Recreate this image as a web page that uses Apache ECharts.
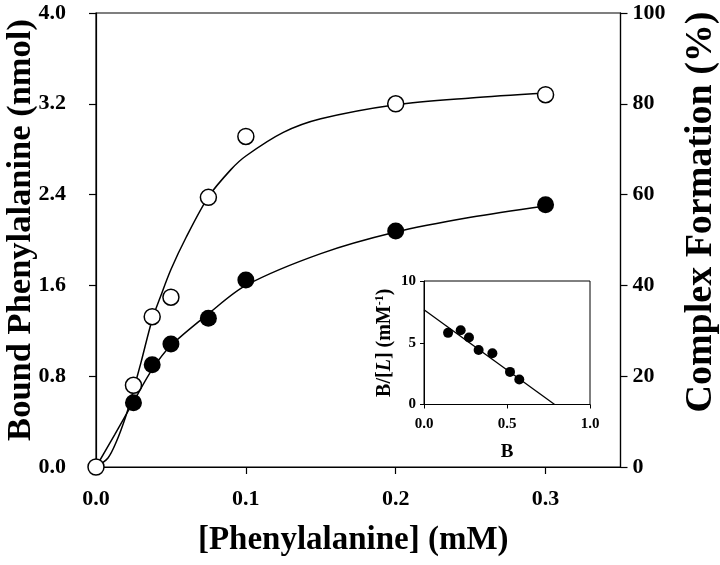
<!DOCTYPE html>
<html>
<head>
<meta charset="utf-8">
<script src="https://cdn.jsdelivr.net/npm/echarts@6/dist/echarts.min.js"></script>
<style>
html,body{margin:0;padding:0;background:#fff;}
#chart{width:720px;height:565px;}
</style>
</head>
<body>
<div id="chart"></div>
<script>
// ---- Data ----
const concentration = [0, 0.025, 0.0375, 0.05, 0.075, 0.1, 0.2, 0.3];          // mM
const boundNmol     = [0, 0.567, 0.90, 1.084, 1.31, 1.648, 2.08, 2.31];           // filled circles (left axis)
const complexPct    = [0, 18.0, 33.1, 37.4, 59.4, 72.8, 80.0, 82.0];              // open circles (right axis)

// fitted curves as drawn in the figure
const boundCurveX   = [0, 0.0125, 0.025, 0.0375, 0.05, 0.075, 0.1, 0.15, 0.2, 0.25, 0.3];
const boundCurveY   = [0, 0.285, 0.575, 0.86, 1.07, 1.35, 1.6, 1.88, 2.07, 2.2, 2.3];
const complexCurveX = [0, 0.008, 0.0135, 0.02, 0.025, 0.03, 0.0375, 0.043, 0.05, 0.06, 0.075, 0.09, 0.1, 0.125, 0.15, 0.2, 0.25, 0.3];
const complexCurveY = [0, 2, 5.5, 11.3, 17, 23, 32.5, 37.5, 43.5, 50.5, 59.5, 65.5, 68.5, 73.7, 76.7, 79.8, 81.3, 82.4];

// inset (Scatchard plot)
const insetB        = [0.145, 0.221, 0.271, 0.329, 0.412, 0.518, 0.574];
const insetBL       = [5.80, 6.01, 5.42, 4.42, 4.15, 2.64, 2.02];
const insetFitX     = [0, 0.787];
const insetFitY     = [7.68, 0];

// tick settings
const mainXTicks = {min: 0, max: 0.35, interval: 0.1};
const leftYTicks = {min: 0, max: 4.0, interval: 0.8};
const rightYTicks = {min: 0, max: 100, interval: 20};
const insetXTicks = {min: 0, max: 1.0, interval: 0.5};
const insetYTicks = {min: 0, max: 10, interval: 5};

const zip = (a, b) => a.map((v, i) => [v, b[i]]);

const FONT = "'Liberation Serif', 'Times New Roman', serif";
const lab = (size, extra) => Object.assign({color: '#000', fontFamily: FONT, fontWeight: 'bold', fontSize: size}, extra || {});
const line = {lineStyle: {color: '#000', width: 1.2}};

const chart = echarts.init(document.getElementById('chart'), null, {renderer: 'canvas'});
chart.setOption({
  animation: false,
  backgroundColor: '#fff',
  grid: [
    {left: 96, top: 13, width: 524.5, height: 454, show: true, borderColor: '#000', borderWidth: 1.2, backgroundColor: 'transparent', containLabel: false, outerBoundsMode: 'none'},
    {left: 424, top: 281, width: 166, height: 123.5, show: true, borderColor: '#000', borderWidth: 1, backgroundColor: 'transparent', containLabel: false, outerBoundsMode: 'none'}
  ],
  xAxis: [
    {
      type: 'value', gridIndex: 0, min: mainXTicks.min, max: mainXTicks.max, interval: mainXTicks.interval,
      axisLine: line, axisTick: {show: true, length: 7, inside: false, lineStyle: {color: '#000', width: 1.2}},
      splitLine: {show: false},
      axisLabel: lab(22, {margin: 21, showMaxLabel: false, formatter: v => (v > 0.31 ? '' : v.toFixed(1))}),
      name: '[Phenylalanine] (mM)', nameLocation: 'middle', nameGap: 57, nameMoveOverlap: false,
      nameTextStyle: lab(33, {padding: [0, 10, 0, 0]})
    },
    {
      type: 'value', gridIndex: 1, min: insetXTicks.min, max: insetXTicks.max, interval: insetXTicks.interval,
      axisLine: {lineStyle: {color: '#000', width: 1}}, axisTick: {length: 4, lineStyle: {color: '#000'}},
      splitLine: {show: false},
      axisLabel: lab(15, {margin: 12, formatter: v => v.toFixed(1)}),
      name: 'B', nameLocation: 'middle', nameGap: 38, nameMoveOverlap: false, nameTextStyle: lab(19)
    }
  ],
  yAxis: [
    {
      type: 'value', gridIndex: 0, position: 'left', min: leftYTicks.min, max: leftYTicks.max, interval: leftYTicks.interval,
      axisLine: line, axisTick: {length: 7, lineStyle: {color: '#000', width: 1.2}},
      splitLine: {show: false},
      axisLabel: lab(22, {margin: 30, formatter: v => v.toFixed(1)}),
      name: 'Bound Phenylalanine (nmol)', nameLocation: 'middle', nameGap: 57, nameMoveOverlap: false,
      nameTextStyle: lab(34.5, {padding: [0, 0, 0, 20]})
    },
    {
      type: 'value', gridIndex: 0, position: 'right', min: rightYTicks.min, max: rightYTicks.max, interval: rightYTicks.interval,
      axisLine: line, axisTick: {length: 7, lineStyle: {color: '#000', width: 1.2}},
      splitLine: {show: false},
      axisLabel: lab(22, {margin: 12}),
      name: 'Complex Formation (%)', nameLocation: 'middle', nameGap: 62, nameRotate: 90, nameMoveOverlap: false,
      nameTextStyle: lab(38, {padding: [0, 0, 0, 56]})
    },
    {
      type: 'value', gridIndex: 1, min: insetYTicks.min, max: insetYTicks.max, interval: insetYTicks.interval,
      axisLine: {lineStyle: {color: '#000', width: 1}}, axisTick: {length: 4, lineStyle: {color: '#000'}},
      splitLine: {show: false},
      axisLabel: lab(15, {margin: 8}),
      name: '{a|B/[}{i|L}{a|] (mM}{s|-1}{a|)}', nameLocation: 'middle', nameGap: 28, nameMoveOverlap: false,
      nameTextStyle: {
        rich: {
          a: lab(20),
          i: lab(20, {fontStyle: 'italic'}),
          s: lab(12, {verticalAlign: 'top', padding: [0, 0, 10, 0]})
        }
      }
    }
  ],
  series: [
    {
      type: 'line', xAxisIndex: 0, yAxisIndex: 0, data: zip(boundCurveX, boundCurveY),
      smooth: 0.3, showSymbol: false, symbol: 'none',
      lineStyle: {color: '#000', width: 1.5}, z: 2, silent: true
    },
    {
      type: 'line', xAxisIndex: 0, yAxisIndex: 1, data: zip(complexCurveX, complexCurveY),
      smooth: 0.3, showSymbol: false, symbol: 'none',
      lineStyle: {color: '#000', width: 1.5}, z: 2, silent: true
    },
    {
      type: 'scatter', xAxisIndex: 0, yAxisIndex: 1, data: zip(concentration, complexPct),
      symbol: 'circle', symbolSize: 16,
      itemStyle: {color: '#fff', borderColor: '#000', borderWidth: 1.5, opacity: 1}, z: 3
    },
    {
      type: 'scatter', xAxisIndex: 0, yAxisIndex: 0, data: zip(concentration.slice(1), boundNmol.slice(1)),
      symbol: 'circle', symbolSize: 17,
      itemStyle: {color: '#000', opacity: 1}, z: 4
    },
    {
      type: 'line', xAxisIndex: 1, yAxisIndex: 2, data: zip(insetFitX, insetFitY),
      showSymbol: false, symbol: 'none', lineStyle: {color: '#000', width: 1.3}, z: 2, silent: true
    },
    {
      type: 'scatter', xAxisIndex: 1, yAxisIndex: 2, data: zip(insetB, insetBL),
      symbol: 'circle', symbolSize: 10, itemStyle: {color: '#000', opacity: 1}, z: 3
    }
  ]
});
</script>
</body>
</html>
